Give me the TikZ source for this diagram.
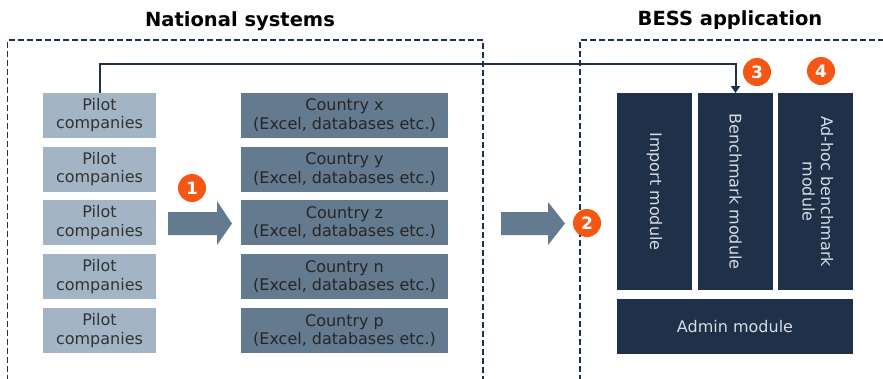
\documentclass[tikz,border=0pt]{standalone}
\usepackage{fontspec}
\setmainfont{DejaVu Sans}
\usetikzlibrary{arrows.meta}

\definecolor{navy}{RGB}{31,48,73}
\definecolor{pilotblue}{RGB}{163,181,197}
\definecolor{countryblue}{RGB}{99,122,143}
\definecolor{badgeorange}{RGB}{246,86,20}
\definecolor{moduletext}{RGB}{214,220,228}

\begin{document}
\begin{tikzpicture}[x=1pt, y=-1pt,
  every node/.style={outer sep=0pt, inner sep=0pt, align=center},
  pilot/.style={fill=pilotblue, minimum width=113pt, minimum height=45pt, text=black!80, font=\fontsize{16}{18.5}\selectfont},
  country/.style={fill=countryblue, minimum width=207pt, minimum height=45pt, text=black!85, font=\fontsize{16}{18.5}\selectfont},
  module/.style={fill=navy, text=moduletext, font=\fontsize{16}{18.5}\selectfont},
  badge/.style={circle, fill=badgeorange, minimum size=28pt, text=white, font=\fontsize{17}{17}\selectfont\bfseries},
  area/.style={draw=navy, line width=1.8pt, dash pattern=on 6pt off 3pt},
  title/.style={font=\fontsize{19.5}{19.5}\selectfont\bfseries},
  link/.style={draw=navy, line width=2pt, -{Triangle[width=9pt,length=7pt]}}]
\useasboundingbox (0,0) rectangle (883,378);

% dashed areas
\draw[area] (7.5,390) -- (7.5,40) -- (483,40) -- (483,390);
\draw[area] (580,390) -- (580,40) -- (900,40);
\node[title] (natl) at (240,21) {National systems};
\node[title] (bess) at (730,20) {BESS application};

% pilot companies
\node[pilot] (p1) at (99.5,115) {Pilot\\companies};
\node[pilot] (p2) at (99.5,169) {Pilot\\companies};
\node[pilot] (p3) at (99.5,222.5) {Pilot\\companies};
\node[pilot] (p4) at (99.5,276.5) {Pilot\\companies};
\node[pilot] (p5) at (99.5,330.5) {Pilot\\companies};

% national data
\node[country] (cx) at (344.5,115) {Country x\\(Excel, databases etc.)};
\node[country] (cy) at (344.5,169) {Country y\\(Excel, databases etc.)};
\node[country] (cz) at (344.5,222.5) {Country z\\(Excel, databases etc.)};
\node[country] (cn) at (344.5,276.5) {Country n\\(Excel, databases etc.)};
\node[country] (cp) at (344.5,330.5) {Country p\\(Excel, databases etc.)};

% BESS modules
\node[module, minimum width=75pt, minimum height=197pt] (imp) at (654.5,191.5) {\rotatebox{-90}{Import module}};
\node[module, minimum width=75pt, minimum height=197pt] (bench) at (735.5,191.5) {\rotatebox{-90}{Benchmark module}};
\node[module, minimum width=75pt, minimum height=197pt] (adhoc) at (815.5,191.5) {\rotatebox{-90}{\begin{tabular}{@{}c@{}}Ad-hoc benchmark\\module\end{tabular}}};
\node[module, minimum width=236pt, minimum height=55pt] (admin) at (735,326.5) {Admin module};

% block arrows
\fill[countryblue] (168,212) -- (217,212) -- (217,201) -- (232,223.5) -- (217,245) -- (217,235) -- (168,235) -- cycle;
\fill[countryblue] (501,212) -- (548,212) -- (548,202) -- (565,223.5) -- (548,245) -- (548,235) -- (501,235) -- cycle;

% steps
\node[badge] (s1) at (192,188) {1};
\node[badge] (s2) at (587,223) {2};
\node[badge] (s3) at (757,72) {3};
\node[badge] (s4) at (821,71) {4};

\coordinate (top) at (400,64);
\draw[link] (p1.north) |- (top) -| (bench.north);
\end{tikzpicture}
\end{document}
